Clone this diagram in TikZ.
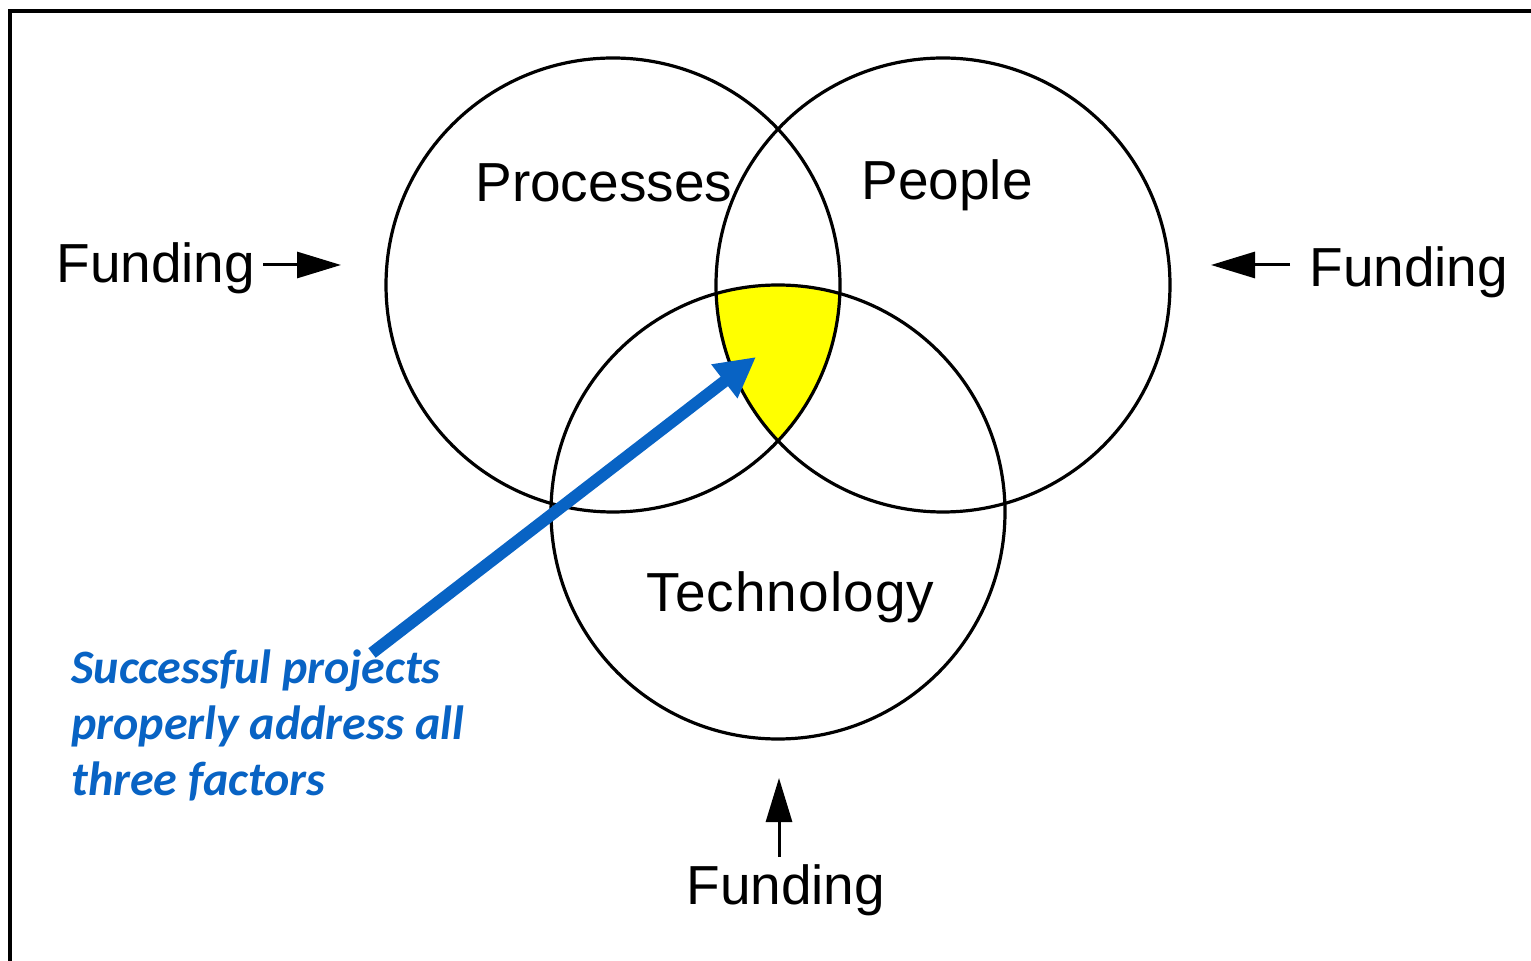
\documentclass[tikz,border=0pt]{standalone}
\usepackage{fontspec}
\setmainfont{Liberation Sans}
\newfontfamily\calfont{Carlito}
\usetikzlibrary{arrows.meta}
\definecolor{vblue}{RGB}{8,99,196}
\definecolor{vyellow}{RGB}{255,255,0}
\begin{document}
\begin{tikzpicture}[x=0.5pt,y=-0.5pt,
  vcirc/.style={circle,draw=black,line width=1.6pt,minimum size=227pt,inner sep=0pt},
  lbl/.style={font=\fontsize{27.5}{32}\selectfont,inner sep=0pt,anchor=base west},
  fundarrow/.style={line width=1.5pt,-{Triangle[length=22pt,width=13pt]}},
  bluearrow/.style={draw=vblue,line width=6pt,-{Triangle[length=20pt,width=20pt]}}]
\useasboundingbox (0,0) rectangle (1531,961);
\clip (0,0) rectangle (1531,961);
\fill[white] (0,0) rectangle (1531,961);
\draw[line width=1.8pt] (10,11) rectangle (1560,990);
% yellow triple intersection
\begin{scope}
  \clip (613,285) circle[radius=113.5pt];
  \clip (943,285) circle[radius=113.5pt];
  \fill[vyellow] (778,512) circle[radius=113.5pt];
\end{scope}
\node[vcirc] (proc) at (613,285) {};
\node[vcirc] (peop) at (943,285) {};
\node[vcirc] (tech) at (778,512) {};
\node[lbl] (tproc) at (475,202) {Processes};
\node[lbl] (tpeop) at (861,200) {People};
\node[lbl] (ttech) at (646,612) {\addfontfeature{LetterSpace=2}Technology};
\node[lbl] (fleft) at (56,283) {Funding};
\node[lbl] (fright) at (1309,287) {Funding};
\node[lbl] (fbot) at (686,904) {Funding};
\coordinate (tl) at (341,265);
\coordinate (tr) at (1211,265);
\coordinate (tb) at (779,778);
\coordinate (sl) at (263,265);
\coordinate (sr) at (1290,265);
\coordinate (sb) at (779,857);
\draw[fundarrow] (sl) -- (tl);
\draw[fundarrow] (sr) -- (tr);
\draw[fundarrow] (sb) -- (tb);
\node[inner sep=0pt,anchor=base west,align=left,text=vblue,
  font=\calfont\bfseries\itshape\fontsize{24}{28.2}\selectfont] (note) at (71,796)
  {Successful projects\\properly address all\\three factors};
\coordinate (bs) at (372,653);
\coordinate (bt) at (756,357);
\draw[bluearrow] (bs) -- (bt);
\end{tikzpicture}
\end{document}
